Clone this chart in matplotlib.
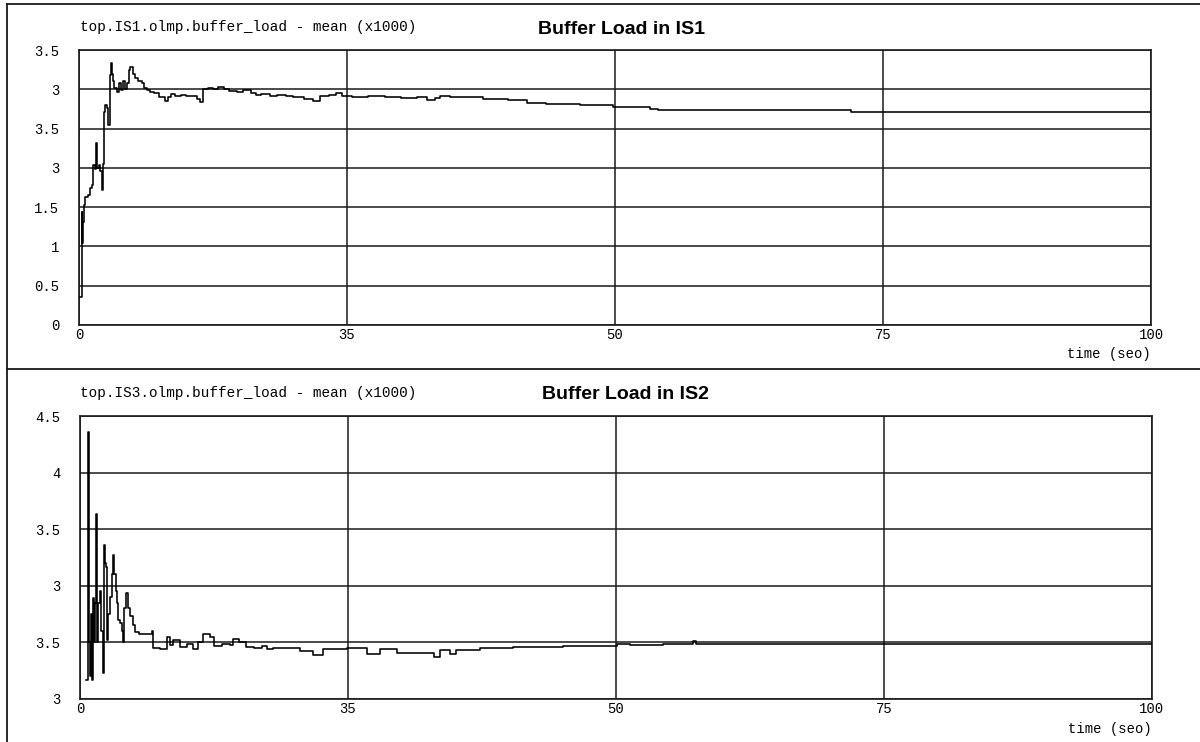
"""Buffer load traces for IS1 and IS2 (two stacked panels, old plotter look)."""

import matplotlib.pyplot as plt
from matplotlib.lines import Line2D

# Top panel: buffer load in IS1 (x1000)
t_is1 = [0.05, 0.25, 0.3, 0.4, 0.5, 0.6, 0.8, 1.0, 1.2, 1.35, 1.45, 1.6,
         1.7, 1.85, 2.0, 2.1, 2.2, 2.3, 2.45, 2.6, 2.7, 2.85, 3.0, 3.05,
         3.15, 3.3, 3.5, 3.7, 3.9, 4.1, 4.3, 4.5, 4.7, 4.8, 5.0, 5.2, 5.5,
         5.85, 6.1, 6.3, 6.6, 7.0, 7.5, 8.0, 8.3, 8.6, 9.0, 9.5, 10.0,
         10.5, 11.0, 11.3, 11.6, 12.0, 12.5, 13.0, 13.5, 14.0, 14.7, 15.3,
         16.0, 16.5, 17.0, 17.8, 18.5, 19.3, 20.0, 21.0, 21.8, 22.5, 23.3,
         24.0, 24.5, 25.5, 27.0, 28.5, 30.0, 31.5, 32.5, 33.2, 33.7, 34.6,
         36.0, 37.7, 39.0, 40.0, 41.8, 43.6, 46.7, 49.8, 51.1, 53.3, 54.0,
         72.0, 100.0]
v_is1 = [0.36, 1.44, 1.04, 1.31, 1.53, 1.63, 1.66, 1.74, 1.78, 2.04, 1.98,
         2.32, 2.0, 2.04, 1.96, 1.72, 2.05, 2.71, 2.8, 2.76, 2.54, 3.18,
         3.33, 3.2, 3.1, 3.02, 2.97, 3.08, 2.99, 3.1, 3.0, 3.08, 3.24, 3.28,
         3.2, 3.14, 3.1, 3.08, 3.02, 2.99, 2.96, 2.95, 2.9, 2.85, 2.9, 2.94,
         2.92, 2.93, 2.91, 2.92, 2.87, 2.84, 3.0, 3.02, 3.0, 3.03, 3.0,
         2.98, 2.97, 2.99, 2.95, 2.93, 2.94, 2.92, 2.93, 2.91, 2.9, 2.88,
         2.85, 2.92, 2.93, 2.95, 2.91, 2.9, 2.91, 2.9, 2.89, 2.9, 2.86,
         2.89, 2.92, 2.9, 2.9, 2.87, 2.87, 2.86, 2.83, 2.81, 2.8, 2.78,
         2.77, 2.75, 2.74, 2.71, 2.71]

# Bottom panel: buffer load in IS2 (x1000)
t_is2 = [0.6, 0.7, 0.8, 0.9, 1.0, 1.1, 1.18, 1.3, 1.4, 1.49, 1.55, 1.7,
         1.87, 2.0, 2.1, 2.2, 2.27, 2.35, 2.43, 2.55, 2.65, 2.8, 2.95, 3.05,
         3.15, 3.26, 3.35, 3.42, 3.55, 3.73, 3.9, 4.04, 4.15, 4.29, 4.45,
         4.66, 4.9, 5.13, 5.5, 6.2, 6.7, 6.84, 7.5, 8.1, 8.4, 8.7, 9.3,
         9.95, 10.5, 11.0, 11.5, 12.1, 12.5, 13.2, 14.0, 14.3, 14.8, 15.5,
         16.2, 17.0, 17.4, 18.0, 18.7, 20.5, 21.7, 22.7, 24.9, 26.8, 28.0,
         29.6, 33.0, 33.6, 34.5, 35.1, 37.3, 40.4, 45.1, 46.6, 49.7, 50.1,
         51.3, 54.4, 57.2, 57.5, 100.0]
v_is2 = [2.17, 4.36, 2.5, 2.2, 2.75, 2.17, 2.89, 2.5, 2.85, 3.63, 2.5, 2.85,
         2.95, 2.6, 2.23, 2.5, 3.36, 3.2, 3.17, 2.52, 2.75, 2.9, 3.1, 3.27,
         3.1, 3.1, 2.95, 2.85, 2.7, 2.67, 2.6, 2.5, 2.8, 2.94, 2.8, 2.73,
         2.65, 2.59, 2.57, 2.57, 2.6, 2.45, 2.44, 2.55, 2.48, 2.52, 2.46,
         2.49, 2.44, 2.5, 2.57, 2.55, 2.47, 2.49, 2.48, 2.53, 2.5, 2.46,
         2.45, 2.47, 2.44, 2.45, 2.45, 2.42, 2.39, 2.44, 2.45, 2.4, 2.44,
         2.41, 2.37, 2.43, 2.4, 2.43, 2.45, 2.46, 2.47, 2.47, 2.47, 2.49,
         2.48, 2.49, 2.51, 2.49, 2.49]

# Axis ticks and the labels as printed on the original plot
x_ticks = [0, 25, 50, 75, 100]
x_labels = ["0", "35", "50", "75", "100"]
y1_ticks = [0, 0.5, 1, 1.5, 2, 2.5, 3, 3.5]
y1_labels = ["0", "0.5", "1", "1.5", "3", "3.5", "3", "3.5"]
y2_ticks = [2, 2.5, 3, 3.5, 4, 4.5]
y2_labels = ["3", "3.5", "3", "3.5", "4", "4.5"]

MONO = "Liberation Mono"
W, H = 1200, 742
TICK_FONT = dict(fontfamily=MONO, fontsize=10)


def style_panel(ax, t, v, yticks, ylabels):
    """Draw one trace with the boxed, gridded look of the plotter."""
    ax.plot(t, v, color="black", lw=1.15, drawstyle="steps-post", zorder=3)
    ax.set_xlim(0, 100)
    ax.set_ylim(yticks[0], yticks[-1])
    ax.set_xticks(x_ticks)
    ax.set_xticklabels(x_labels, **TICK_FONT)
    ax.set_yticks(yticks)
    ax.set_yticklabels(ylabels, **TICK_FONT)
    ax.tick_params(axis="y", length=0, pad=14)
    ax.tick_params(axis="x", length=0, pad=2)
    ax.grid(True, color="#1a1a1a", lw=1.1)
    for s in ax.spines.values():
        s.set_color("#1a1a1a")
        s.set_linewidth(1.2)
    ax.text(1.0, -0.105, "time (seo)", transform=ax.transAxes, ha="right",
            va="center", **TICK_FONT)


def main():
    fig = plt.figure(figsize=(W / 100, H / 100), dpi=100)

    # axes boxes in pixel coords of the reference
    ax1 = fig.add_axes([79 / W, 1 - 325 / H, (1151 - 79) / W, (325 - 50) / H])
    ax2 = fig.add_axes([80 / W, 1 - 699 / H, (1152 - 80) / W, (699 - 416) / H])

    style_panel(ax1, t_is1, v_is1, y1_ticks, y1_labels)
    style_panel(ax2, t_is2, v_is2, y2_ticks, y2_labels)

    # panel headers
    head = dict(fontfamily=MONO, fontsize=10.4, va="center", ha="left")
    title = dict(fontfamily="Liberation Sans", fontweight="bold",
                 fontsize=14, ha="center", va="center")
    fig.text(80 / W, 1 - 27 / H, "top.IS1.olmp.buffer_load - mean (x1000)", **head)
    fig.text(621 / W, 1 - 29 / H, "Buffer Load in IS1", **title)
    fig.text(80 / W, 1 - 393 / H, "top.IS3.olmp.buffer_load - mean (x1000)", **head)
    fig.text(625 / W, 1 - 394 / H, "Buffer Load in IS2", **title)

    # outer frame and separator between panels
    frame = dict(color="#1a1a1a", lw=1.3, transform=fig.transFigure)
    fig.add_artist(Line2D([7 / W, 1], [1 - 4 / H, 1 - 4 / H], **frame))
    fig.add_artist(Line2D([7 / W, 7 / W], [0, 1 - 4 / H], **frame))
    fig.add_artist(Line2D([7 / W, 1], [1 - 369 / H, 1 - 369 / H], **frame))

    fig.savefig("out.png", dpi=100)


if __name__ == "__main__":
    main()
